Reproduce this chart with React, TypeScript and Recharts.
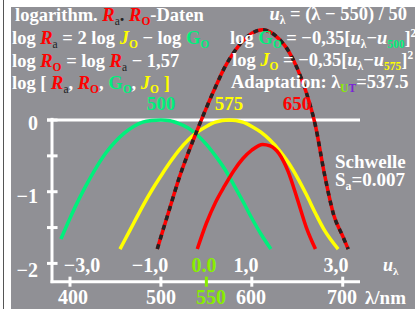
import { ComposedChart, Line, XAxis, YAxis, ReferenceLine } from 'recharts'

// colours
const GRAY = '#909095'
const GREEN = '#00f07c'
const YELLOW = '#ffff00'
const RED = '#ff0000'
const LIME = '#88ee00'
const DARK = '#222'
const FONT = '"Liberation Serif", "Times New Roman", serif'

// log G (green), peak at 500 nm
const gLam = [390, 400, 410, 420, 430, 440, 450, 460, 470, 480, 490, 500, 510, 520, 530, 540, 550, 560, 570, 580, 590, 600, 610, 621]
const gVal = [-1.66, -1.37, -1.1, -0.86, -0.64, -0.45, -0.3, -0.18, -0.09, -0.03, -0.007, 0, -0.01, -0.05, -0.11, -0.21, -0.34, -0.5, -0.68, -0.9, -1.13, -1.37, -1.59, -1.8]

// log J (yellow), peak at 575 nm
const jLam = [455, 460, 470, 480, 490, 500, 510, 520, 530, 540, 550, 560, 575, 590, 600, 610, 620, 630, 640, 650, 660, 670, 680, 695]
const jVal = [-1.8, -1.68, -1.44, -1.2, -0.98, -0.78, -0.59, -0.42, -0.28, -0.17, -0.09, -0.03, 0, -0.03, -0.09, -0.17, -0.28, -0.42, -0.59, -0.8, -1.04, -1.3, -1.54, -1.8]

// log Ra (red/black dashed)
const raLam = [496, 500, 510, 520, 530, 540, 550, 560, 570, 580, 590, 600, 612, 620, 630, 640, 650, 660, 670, 680, 690, 700, 706]
const raVal = [-1.8, -1.63, -1.22, -0.81, -0.46, -0.14, 0.17, 0.46, 0.73, 0.94, 1.1, 1.21, 1.26, 1.23, 1.13, 0.97, 0.72, 0.38, -0.08, -0.76, -1.32, -1.62, -1.8]

// log Ro (red solid)
const roLam = [540, 550, 560, 570, 580, 590, 600, 612, 620, 630, 640, 650, 660, 670]
const roVal = [-1.8, -1.44, -1.15, -0.92, -0.71, -0.54, -0.42, -0.34, -0.36, -0.47, -0.72, -1.1, -1.5, -1.8]

// axes frame
const xTicks = [400, 500, 600, 700]
const yTicks = [0, -0.5, -1, -1.5, -2]
const yTickLabels = ['0', '−1', '−2']
const uLabels = ['−3,0', '−1,0', '1,0', '3,0']
const lamLabels = ['400', '500', '600', '700']

const toSeries = (lam: number[], val: number[]) => lam.map((l, i) => ({ lam: l, v: val[i] }))
const gData = toSeries(gLam, gVal)
const jData = toSeries(jLam, jVal)
const raData = toSeries(raLam, raVal)
const roData = toSeries(roLam, roVal)

type Seg = [string, string?, ('sub' | 'sup' | 'it')?]

function Rich({ x, y, segs, size, anchor }: { x: number; y: number; segs: Seg[]; size: number; anchor?: 'start' | 'end' | 'middle' }) {
  let shift = 0
  return (
    <text x={x} y={y} fontSize={size} fontFamily={FONT} fontWeight="bold" fill="#fff" textAnchor={anchor ?? 'start'}>
      {segs.map(([t, c, k], i) => {
        const target = k === 'sub' ? size * 0.22 : k === 'sup' ? -size * 0.38 : 0
        const dy = target - shift
        shift = target
        const small = k === 'sub' || k === 'sup'
        return (
          <tspan key={i} dy={dy} fill={c ?? '#fff'} fontStyle={k === 'it' ? 'italic' : undefined}
            fontSize={small ? size * 0.62 : undefined} fontWeight={small && c === DARK ? 'normal' : undefined}>
            {t}
          </tspan>
        )
      })}
    </text>
  )
}

function Labels() {
  const s = 18.5
  return (
    <svg width={415} height={309} style={{ position: 'absolute', left: 0, top: 0 }}>
      <Rich x={15} y={21} size={s} segs={[['logarithm. '], ['R', RED, 'it'], ['a', DARK, 'sub'], ['. ', DARK], ['R', RED, 'it'], ['O', RED, 'sub'], ['-Daten']]} />
      <Rich x={12} y={44} size={s} segs={[['log '], ['R', RED, 'it'], ['a', DARK, 'sub'], [' = 2 log '], ['J', YELLOW, 'it'], ['O', YELLOW, 'sub'], [' − log '], ['G', GREEN], ['O', GREEN, 'sub']]} />
      <Rich x={12} y={67} size={s} segs={[['log '], ['R', RED, 'it'], ['O', RED, 'sub'], [' = log '], ['R', RED, 'it'], ['a', DARK, 'sub'], [' − 1,57']]} />
      <Rich x={12} y={89} size={s} segs={[['log [ '], ['R', RED, 'it'], ['a', DARK, 'sub'], [', '], ['R', RED, 'it'], ['O', RED, 'sub'], [', '], ['G', GREEN], ['O', GREEN, 'sub'], [', '], ['J', YELLOW, 'it'], ['O', YELLOW, 'sub'], [' ]', YELLOW]]} />

      <Rich x={407} y={20} size={s} anchor="end" segs={[['u', '#fff', 'it'], ['λ', '#fff', 'sub'], [' = (λ − 550) / 50']]} />
      <Rich x={230} y={44} size={s} segs={[['log '], ['G', GREEN], ['O', GREEN, 'sub'], [' = −0,35['], ['u', '#fff', 'it'], ['λ', '#fff', 'sub'], ['−'], ['u', '#fff', 'it'], ['500', GREEN, 'sub'], [']'], ['2', '#fff', 'sup']]} />
      <Rich x={232} y={66} size={s} segs={[['log '], ['J', YELLOW, 'it'], ['O', YELLOW, 'sub'], [' = −0,35['], ['u', '#fff', 'it'], ['λ', '#fff', 'sub'], ['−'], ['u', '#fff', 'it'], ['575', YELLOW, 'sub'], [']'], ['2', '#fff', 'sup']]} />
      <Rich x={231} y={88} size={s} segs={[['Adaptation: λ'], ['U', LIME, 'sub'], ['T', '#7a22d8', 'sub'], ['=537.5']]} />

      <text x={161} y={110} fontSize={19} fontFamily={FONT} fontWeight="bold" fill={GREEN} textAnchor="middle">500</text>
      <text x={229} y={110} fontSize={19} fontFamily={FONT} fontWeight="bold" fill={YELLOW} textAnchor="middle">575</text>
      <text x={297} y={110} fontSize={19} fontFamily={FONT} fontWeight="bold" fill={RED} textAnchor="middle">650</text>

      <text x={335} y={168} fontSize={19} fontFamily={FONT} fontWeight="bold" fill="#fff">Schwelle</text>
      <Rich x={335} y={186} size={19} segs={[['S'], ['a', '#fff', 'sub'], ['=0.007']]} />

      {yTickLabels.map((t, i) => (
        <text key={t} x={38} y={[130, 203, 277][i]} fontSize={20} fontFamily={FONT} fontWeight="bold" fill="#fff" textAnchor="end">{t}</text>
      ))}
      {uLabels.map((t, i) => (
        <text key={t} x={[82, 150, 246, 336][i]} y={272} fontSize={20} fontFamily={FONT} fontWeight="bold" fill="#fff" textAnchor="middle">{t}</text>
      ))}
      <text x={204} y={272} fontSize={20} fontFamily={FONT} fontWeight="bold" fill={LIME} textAnchor="middle">0.0</text>
      <Rich x={383} y={271} size={18} segs={[['u', '#fff', 'it'], ['λ', '#fff', 'sub']]} />
      {lamLabels.map((t, i) => (
        <text key={t} x={[73, 161, 251, 342][i]} y={304} fontSize={20} fontFamily={FONT} fontWeight="bold" fill="#fff" textAnchor="middle">{t}</text>
      ))}
      <text x={211} y={304} fontSize={20} fontFamily={FONT} fontWeight="bold" fill={LIME} textAnchor="middle">550</text>
      <text x={365} y={304} fontSize={19} fontFamily={FONT} fontWeight="bold" fill="#fff">λ/nm</text>
    </svg>
  )
}

export default function App() {
  const line = { dataKey: 'v', type: 'monotone' as const, dot: false, isAnimationActive: false, strokeWidth: 3.5 }
  return (
    <div style={{ position: 'absolute', left: 0, top: 0, width: 415, height: 309, background: '#fff', overflow: 'hidden' }}>
      <div style={{ position: 'absolute', left: 3, top: 0, width: 1, height: 309, background: '#555' }} />
      <div style={{ position: 'absolute', left: 11, top: 7, width: 404, height: 302, background: GRAY }} />
      <div style={{ position: 'absolute', left: 0, top: 0 }}>
        <ComposedChart width={415} height={309} margin={{ top: 0, right: 0, bottom: 0, left: 0 }}>
          <XAxis type="number" dataKey="lam" domain={[323, 779.5]} allowDataOverflow hide />
          <YAxis type="number" domain={[-2.636, 1.674]} allowDataOverflow hide />

          {/* frame: zero line, left axis, bottom axis */}
          <ReferenceLine segment={[{ x: 374.7, y: 0 }, { x: 719, y: 0 }]} stroke="#fff" strokeWidth={3} />
          <ReferenceLine segment={[{ x: 380.2, y: 0.03 }, { x: 380.2, y: -2.275 }]} stroke="#fff" strokeWidth={3} />
          <ReferenceLine segment={[{ x: 378.6, y: -2.255 }, { x: 719, y: -2.255 }]} stroke="#fff" strokeWidth={3} />
          {yTicks.map((t) => (
            <ReferenceLine key={t} segment={[{ x: 374.7, y: t }, { x: 386.3, y: t }]} stroke="#fff" strokeWidth={3} />
          ))}
          {xTicks.map((t) => (
            <ReferenceLine key={t} segment={[{ x: t, y: -2.185 }, { x: t, y: -2.325 }]} stroke="#fff" strokeWidth={3} />
          ))}
          <ReferenceLine segment={[{ x: 550, y: -2.185 }, { x: 550, y: -2.325 }]} stroke={LIME} strokeWidth={3} />

          <Line {...line} data={gData} stroke={GREEN} />
          <Line {...line} data={jData} stroke={YELLOW} />
          <Line {...line} data={roData} stroke={RED} />
          <Line {...line} data={raData} stroke={RED} />
          <Line {...line} data={raData} stroke={DARK} strokeDasharray="5 5" />
        </ComposedChart>
      </div>
      <Labels />
    </div>
  )
}
